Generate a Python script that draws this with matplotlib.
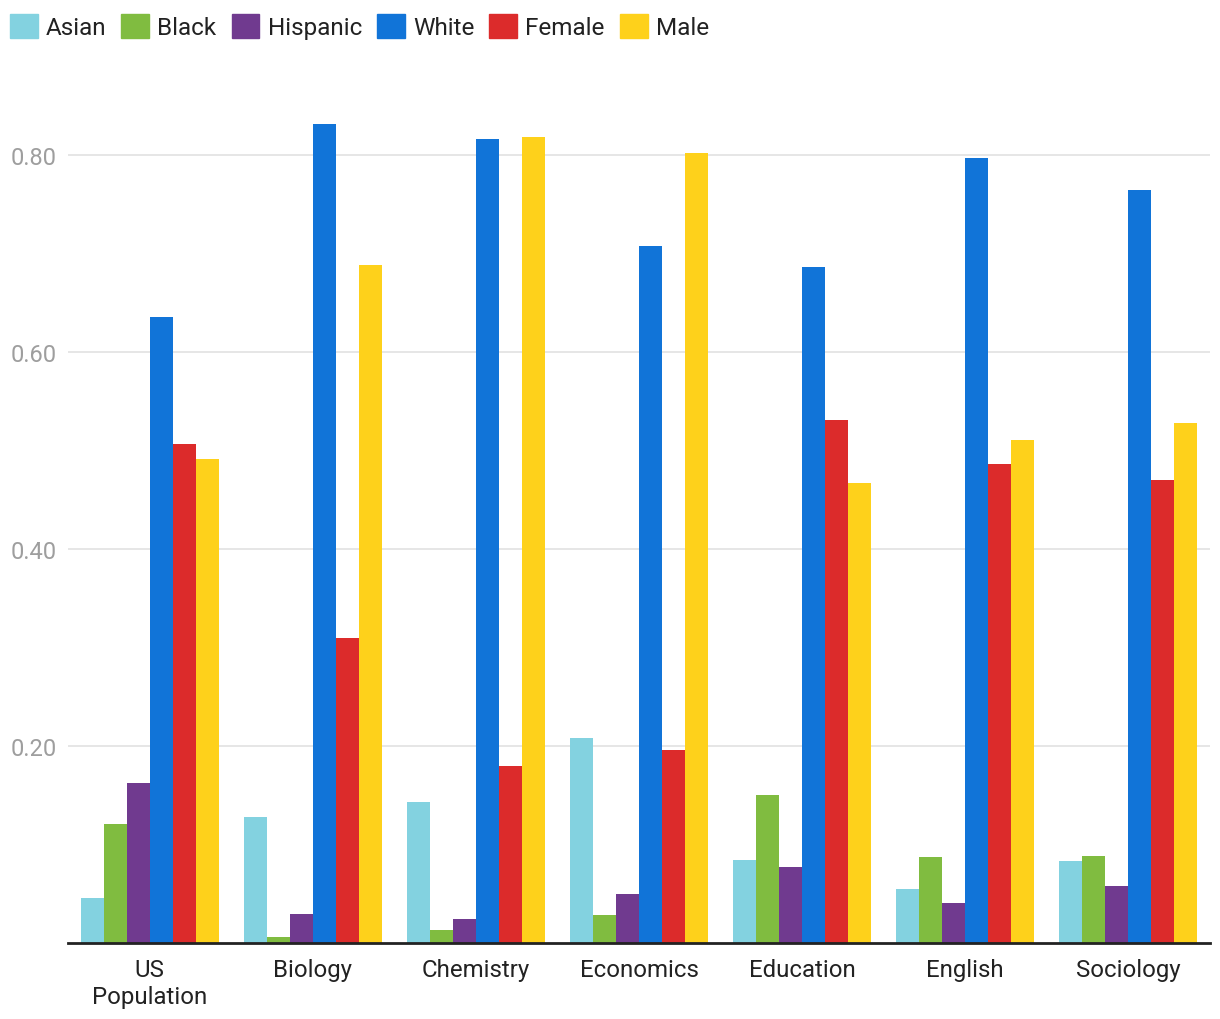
import numpy as np
import matplotlib.pyplot as plt
from matplotlib.patches import Patch

plt.rcParams['font.family'] = ['Roboto', 'DejaVu Sans']

# fields on the x axis
fields = ['US\nPopulation', 'Biology', 'Chemistry', 'Economics',
          'Education', 'English', 'Sociology']

series = ['Asian', 'Black', 'Hispanic', 'White', 'Female', 'Male']
colors = ['#83d2e0', '#80bc40', '#703a8f', '#1174d8', '#dc2b2b', '#fed11b']

asian = [0.046, 0.128, 0.143, 0.208, 0.084, 0.055, 0.083]
black = [0.121, 0.006, 0.013, 0.028, 0.150, 0.087, 0.088]
hispanic = [0.162, 0.029, 0.024, 0.050, 0.077, 0.041, 0.058]
white = [0.636, 0.831, 0.816, 0.708, 0.686, 0.797, 0.764]
female = [0.507, 0.310, 0.180, 0.196, 0.531, 0.486, 0.470]
male = [0.491, 0.688, 0.818, 0.802, 0.467, 0.511, 0.528]

yticks = [0.2, 0.4, 0.6, 0.8]

values = [asian, black, hispanic, white, female, male]

fig = plt.figure(figsize=(12.2, 10.2), dpi=100)
ax = fig.add_axes([68 / 1220, 76 / 1020, 1142 / 1220, 886.5 / 1020])

x = np.arange(len(fields))
w = 23 / 163
for i, (vals, c) in enumerate(zip(values, colors)):
    ax.bar(x + (i - 2.5) * w, vals, width=w, color=c, zorder=3)

ax.set_xlim(-0.5, len(fields) - 0.5)
ax.set_ylim(0, 0.9)
ax.set_yticks(yticks)
ax.set_yticklabels(['%.2f' % t for t in yticks])
ax.yaxis.grid(True, color='#e2e2e2', linewidth=1.2, zorder=0)
ax.set_xticks(x)
ax.set_xticklabels(fields, linespacing=1.2)
ax.tick_params(axis='y', length=0, pad=8, labelsize=17, labelcolor='#9e9e9e')
ax.tick_params(axis='x', length=0, pad=11, labelsize=17.3, labelcolor='#222222')
for s in ['top', 'right', 'left']:
    ax.spines[s].set_visible(False)
ax.spines['bottom'].set_linewidth(2)
ax.spines['bottom'].set_color('#222222')
ax.spines['bottom'].set_zorder(4)

handles = [Patch(color=c, label=s) for s, c in zip(series, colors)]
fig.legend(handles=handles, loc='upper left', bbox_to_anchor=(-0.005, 1.001),
           ncol=6, frameon=False, fontsize=17.5, handlelength=1.15,
           handleheight=1.15, handletextpad=0.33, columnspacing=0.62,
           labelcolor='#222222', borderaxespad=0.25)

fig.savefig('out.png', dpi=100)
